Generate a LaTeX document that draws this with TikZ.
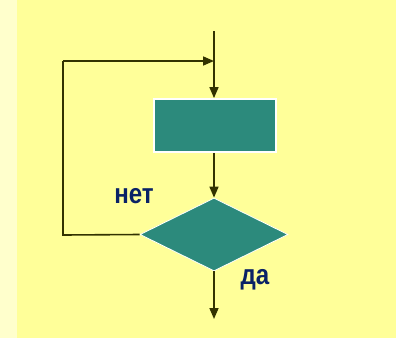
\documentclass[tikz,border=0pt]{standalone}
\usepackage{graphicx}
\usepackage{fontspec}
\setmainfont{Liberation Sans}
\usetikzlibrary{arrows.meta,shapes.geometric}
\definecolor{pagebg}{HTML}{FFFF99}
\definecolor{stripbg}{HTML}{FFFFCC}
\definecolor{blockfill}{HTML}{2C8A7C}
\definecolor{flowline}{HTML}{333300}
\definecolor{labelblue}{HTML}{0A2266}
\tikzset{
  flow/.style={draw=flowline, line width=1.6pt,
    -{Triangle[length=11pt,width=9pt]}},
  plainflow/.style={draw=flowline, line width=1.6pt, line join=miter},
  actionbox/.style={rectangle, fill=blockfill, draw=white, line width=1.8pt,
    minimum width=122pt, minimum height=53pt, inner sep=0pt},
  choice/.style={diamond, fill=blockfill, draw=white, line width=0.8pt,
    minimum width=148pt, minimum height=73pt, inner sep=0pt, aspect=2},
  answer/.style={font=\fontsize{28}{30}\selectfont\bfseries, text=labelblue,
    inner sep=0pt}
}
\newcommand{\narrowtext}[1]{\scalebox{0.86}[1]{#1}}
\begin{document}
\begin{tikzpicture}[x=1pt,y=-1pt]
  % background: pale strip on the left, yellow field
  \fill[pagebg] (0,0) rectangle (396,338);
  \fill[stripbg] (0,0) rectangle (17,338);
  \useasboundingbox (0,0) rectangle (396,338);

  % blocks
  \node[actionbox] (act) at (215,125.5) {};
  \node[choice] (cond) at (214,234.5) {};

  % free ends of the connectors
  \coordinate (entry) at (214,31);
  \coordinate (join) at (214,61);
  \coordinate (loopTop) at (63,61);
  \coordinate (loopBot) at (63,235);
  \coordinate (exit) at (214,319);

  % connectors
  \draw[plainflow] (entry) -- (join);
  \draw[flow] (join) -- (join |- act.north);
  \draw[flow] (act.south -| join) -- (cond.north);
  \draw[plainflow] (cond.west) -- (loopBot) -- (loopTop);
  \draw[flow] (loopTop) -- (join);
  \draw[flow] (cond.south) -- (exit);

  % labels
  \node[answer] (no) at (134,196) {\narrowtext{нет}};
  \node[answer] (yes) at (255,280) {\narrowtext{да}};
\end{tikzpicture}
\end{document}
